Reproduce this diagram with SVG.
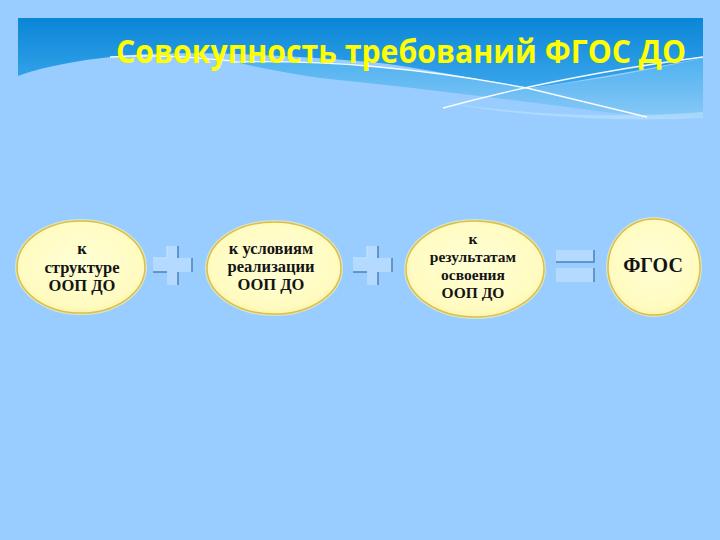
<svg xmlns="http://www.w3.org/2000/svg" width="720" height="540" viewBox="0 0 720 540">
  <defs>
    <linearGradient id="bandDark" x1="0" y1="0" x2="0" y2="1" gradientUnits="objectBoundingBox">
      <stop offset="0" stop-color="#0A86D6"/>
      <stop offset="1" stop-color="#3AA6EC"/>
    </linearGradient>
    <linearGradient id="bandMid" x1="0" y1="0" x2="0" y2="1">
      <stop offset="0" stop-color="#45AEEE"/>
      <stop offset="1" stop-color="#86C8F6"/>
    </linearGradient>
    <radialGradient id="nodeFill" cx="0.5" cy="0.45" r="0.6">
      <stop offset="0" stop-color="#FFFFD6"/>
      <stop offset="0.8" stop-color="#FFFBC0"/>
      <stop offset="1" stop-color="#FAF0A0"/>
    </radialGradient>
    <style>
      .halo { fill: none; stroke: #EEF0B0; stroke-width: 4; opacity: 0.7; }
      .node { fill: url(#nodeFill); stroke: #DDBE48; stroke-width: 1.5; }
      .lbl { font-family: "Liberation Serif", "Times New Roman", serif; font-weight: bold; font-size: 16.5px; fill: #141414; text-anchor: middle; }
      .sm { font-size: 15.5px; }
      .big { font-size: 20px; }
      .op { fill: #B5DAFF; }
      .sh { fill: none; stroke: #4E80B6; stroke-width: 1.5; }
      .fl { fill: none; stroke: #C8E4FF; stroke-width: 1; }
      .wl { fill: none; stroke: #FFFFFF; stroke-width: 1.3; opacity: 0.95; }
    </style>
  </defs>

  <rect x="0" y="0" width="720" height="540" fill="#99CCFF"/>

  <g id="header">
    <path d="M18,18 H703 V58 C660,66 590,80 530,88 C470,78 420,68 380,63 C300,55 180,50 120,56 C70,61 40,68 18,76 Z" fill="url(#bandDark)"/>
    <path d="M232,61 C330,60 420,68 530,88 C600,80 660,68 703,58 V118 C650,118 600,112 560,106 C480,96 400,86 320,78 C280,72 250,66 232,61 Z" fill="url(#bandMid)" opacity="0.9"/>
    <path d="M430,100 C500,112 600,120 703,112 V118 C620,122 520,118 430,100 Z" fill="#B5E0FC" opacity="0.7"/>
    <path d="M110,57 C160,54 200,58 232,61" class="wl" opacity="0.5"/>
    <path d="M232,62 C330,60 420,68 527,88 L647,117" class="wl"/>
    <path d="M443,108 Q560,76 703,57" class="wl"/>
    <text x="116" y="63" textLength="570" lengthAdjust="spacingAndGlyphs" font-family="'Open Sans', 'Liberation Sans', sans-serif" font-weight="bold" font-size="32" fill="#FFFF00">Совокупность требований ФГОС ДО</text>
  </g>

  <g id="node1">
    <ellipse cx="81" cy="267" rx="64" ry="46" class="halo"/>
    <ellipse cx="81" cy="267" rx="64" ry="46" class="node"/>
    <text class="lbl" x="82" y="254">к</text>
    <text class="lbl" x="82" y="273">структуре</text>
    <text class="lbl" x="82" y="291">ООП ДО</text>
  </g>

  <g id="node2">
    <ellipse cx="274" cy="268" rx="67" ry="46" class="halo"/>
    <ellipse cx="274" cy="268" rx="67" ry="46" class="node"/>
    <text class="lbl" x="271" y="254">к условиям</text>
    <text class="lbl" x="271" y="272">реализации</text>
    <text class="lbl" x="271" y="290">ООП ДО</text>
  </g>

  <g id="node3">
    <ellipse cx="475" cy="269" rx="69" ry="48" class="halo"/>
    <ellipse cx="475" cy="269" rx="69" ry="48" class="node"/>
    <text class="lbl sm" x="473" y="244">к</text>
    <text class="lbl sm" x="473" y="262">результатам</text>
    <text class="lbl sm" x="473" y="280">освоения</text>
    <text class="lbl sm" x="473" y="298">ООП ДО</text>
  </g>

  <g id="node4">
    <ellipse cx="654" cy="267" rx="46" ry="48" class="halo"/>
    <ellipse cx="654" cy="267" rx="46" ry="48" class="node"/>
    <text class="lbl big" x="653" y="272">ФГОС</text>
  </g>

  <g id="connectors">
    <g id="plus1">
      <polygon class="op" points="167,246 178,246 178,258 192,258 192,272 178,272 178,285 167,285 167,272 153,272 153,258 167,258"/>
      <path class="fl" d="M153,258 H167 V246"/>
      <path class="sh" d="M178,246 V258 M192,258 V272 M153,272 H167 M178,272 V285"/>
    </g>
    <g id="plus2">
      <polygon class="op" points="367,246 378,246 378,258 392,258 392,272 378,272 378,285 367,285 367,272 353,272 353,258 367,258"/>
      <path class="fl" d="M353,258 H367 V246"/>
      <path class="sh" d="M378,246 V258 M392,258 V272 M353,272 H367 M378,272 V285"/>
    </g>
    <g id="equals">
      <rect class="op" x="556" y="250" width="38" height="12"/>
      <rect class="op" x="556" y="268" width="38" height="14"/>
      <path class="sh" d="M556,262 H594 V250 M594,268 V282"/>
    </g>
  </g>
</svg>
